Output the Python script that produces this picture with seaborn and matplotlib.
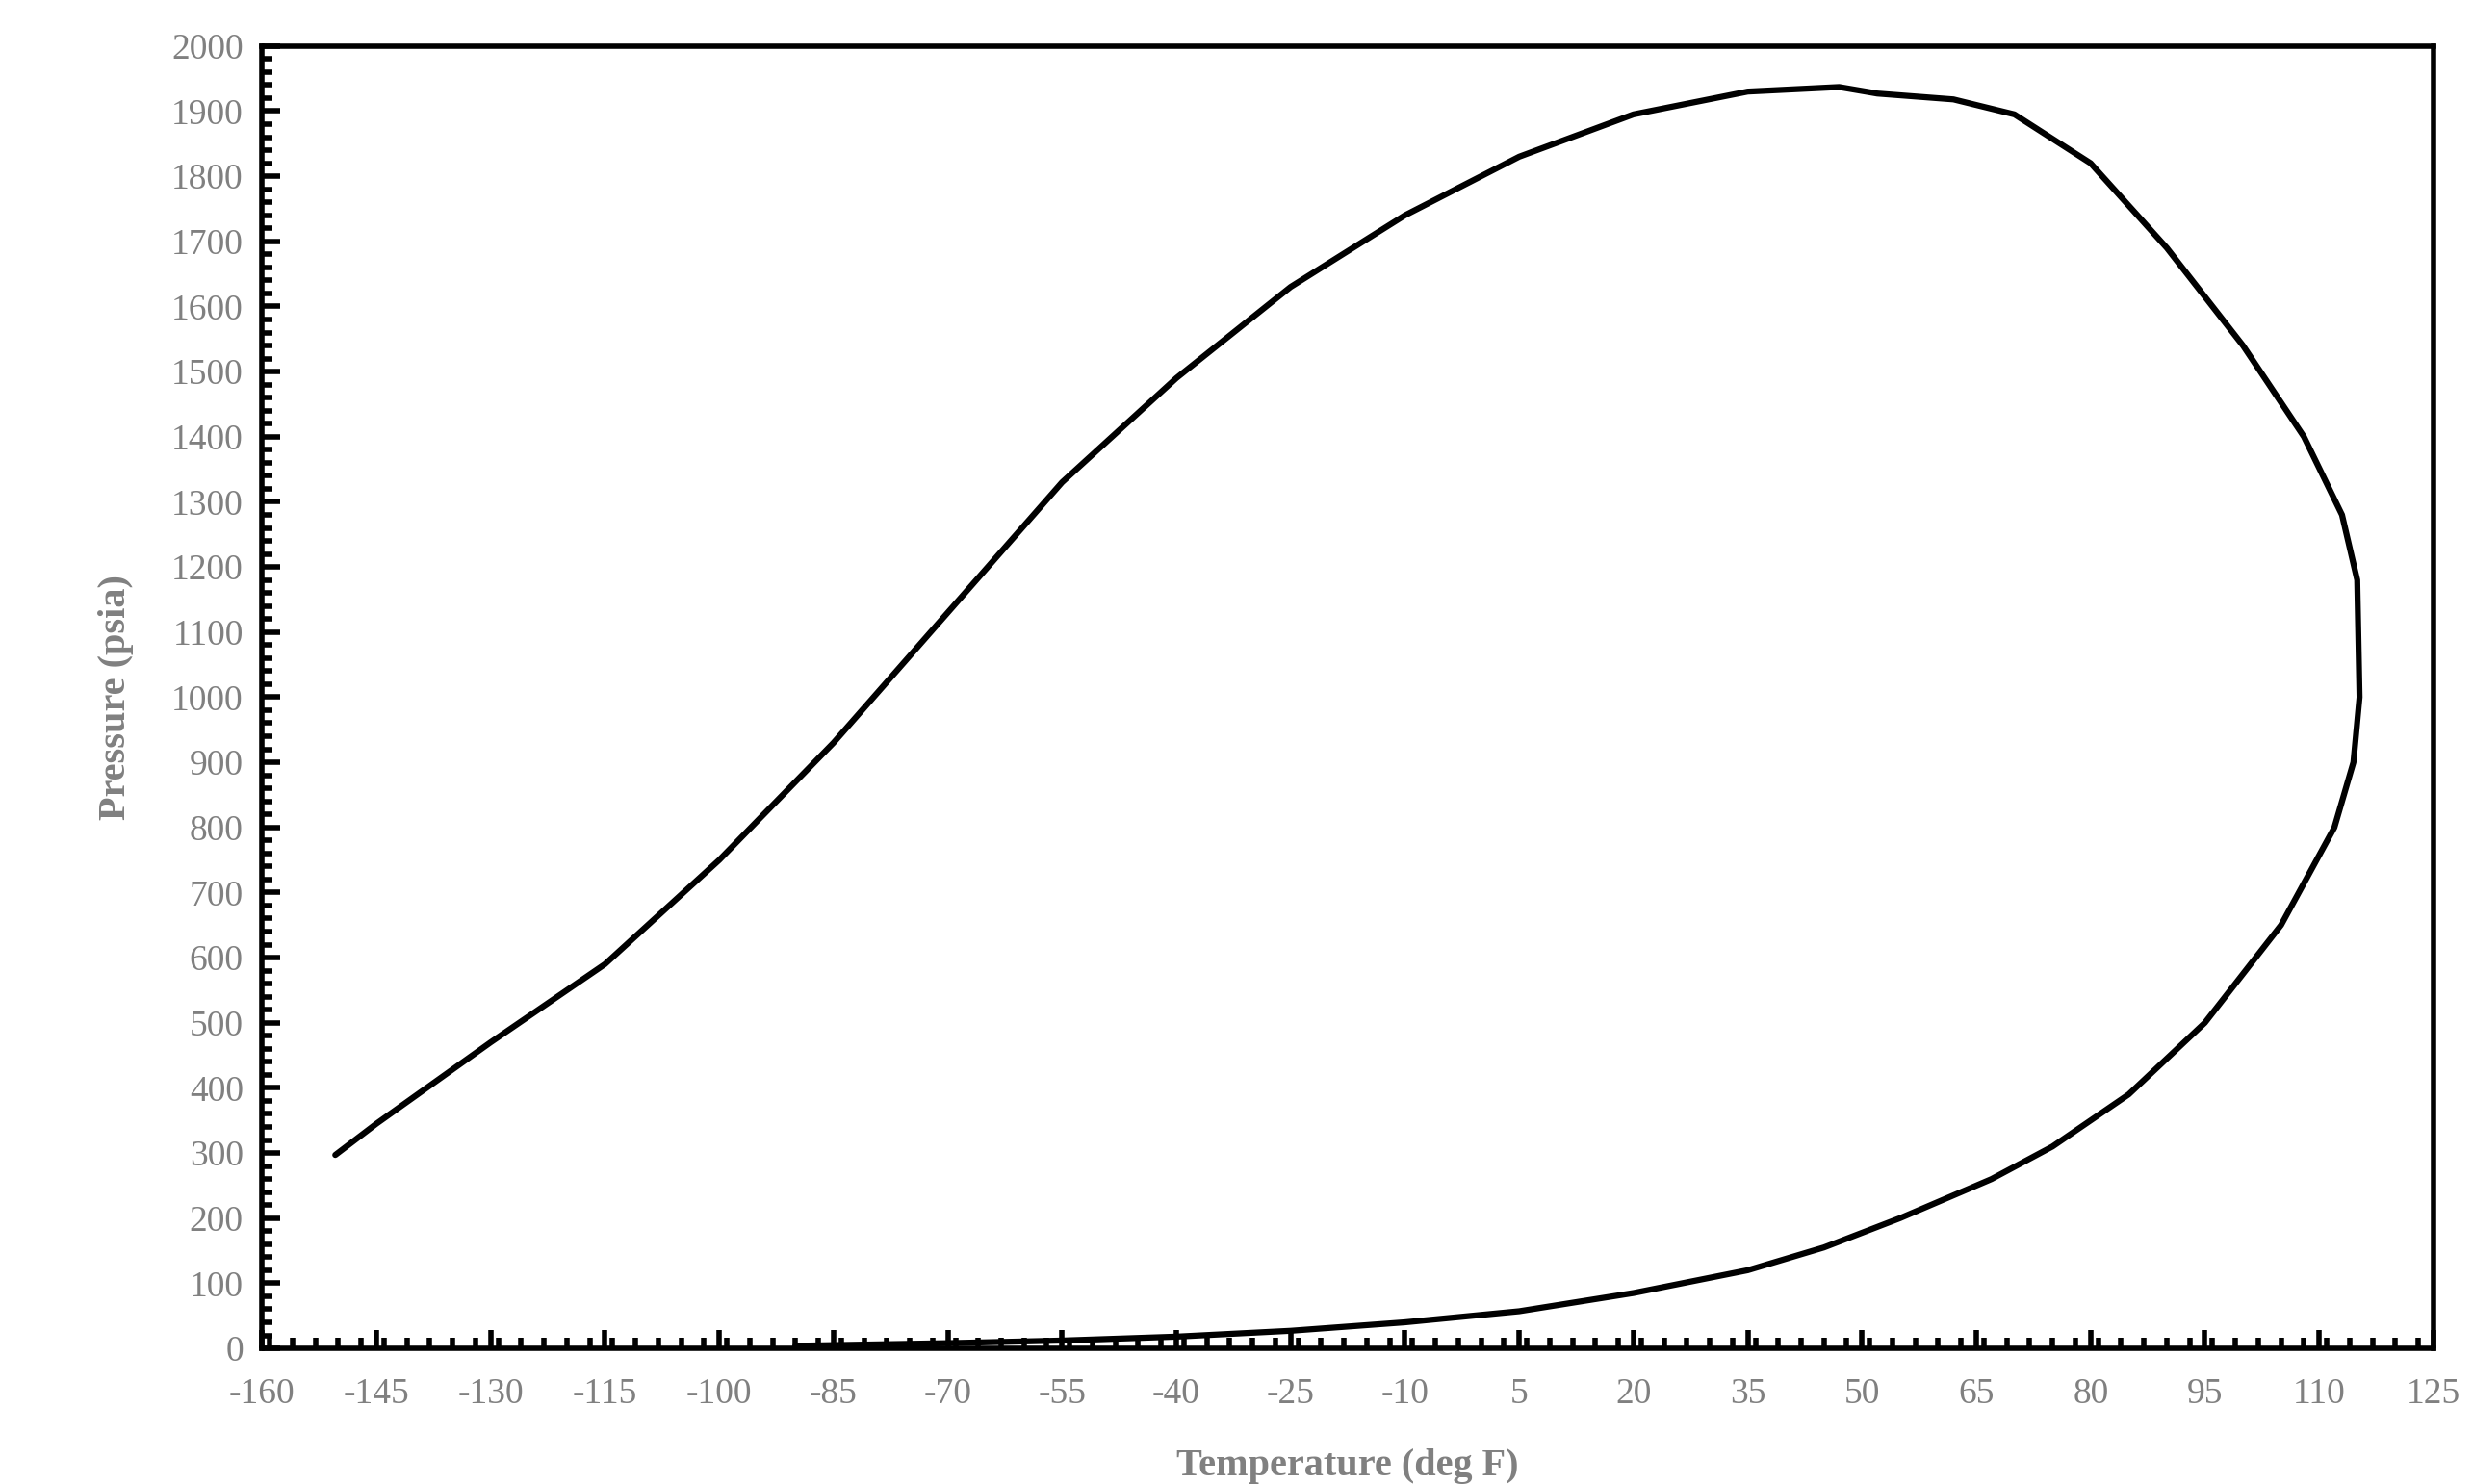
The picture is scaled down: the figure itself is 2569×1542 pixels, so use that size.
import numpy as np
import matplotlib
matplotlib.use("Agg")
import matplotlib.pyplot as plt
import seaborn as sns
from matplotlib.ticker import MultipleLocator

# phase envelope, traced from bubble end round to dew end
temp_f = [-150.4, -145, -130, -115, -100, -85, -70, -55, -40, -25, -10, 5, 20, 35, 47,
          52, 62, 70, 80, 90, 100, 108, 113, 115, 115.3, 114.5, 112, 105, 95, 85, 75,
          67, 55, 45, 35, 20, 5, -10, -25, -40, -55, -70, -85, -90]
pressure_psia = [297, 345, 470, 590, 750, 930, 1130, 1330, 1490, 1630, 1740, 1830, 1895,
                 1930, 1937, 1927, 1918, 1895, 1820, 1690, 1540, 1400, 1280, 1180, 1000,
                 900, 800, 650, 500, 390, 310, 260, 200, 155, 120, 85, 57, 40, 27, 18,
                 12, 8, 5, 4]
x_ticks = list(range(-160, 126, 15))
y_ticks = list(range(0, 2001, 100))

sns.set_style("white")
plt.rcParams['font.family'] = ['Liberation Serif', 'DejaVu Serif']
plt.rcParams['axes.unicode_minus'] = False

fig, ax = plt.subplots(figsize=(25.69, 15.42), dpi=100)
fig.subplots_adjust(left=0.106, right=0.984, top=0.969, bottom=0.0914)

sns.lineplot(x=temp_f, y=pressure_psia, sort=False, estimator=None, color='black',
             linewidth=4.5, ax=ax)

ax.set_xlim(-160, 125)
ax.set_ylim(0, 2000)
ax.set_xticks(x_ticks)
ax.set_yticks(y_ticks)
ax.xaxis.set_minor_locator(MultipleLocator(3))
ax.yaxis.set_minor_locator(MultipleLocator(20))
ax.tick_params(which='both', bottom=True, left=True, top=False, right=False)
ax.tick_params(which='major', direction='in', length=14, width=4, labelsize=27,
               labelcolor='#808080', pad=14, color='black')
ax.tick_params(which='minor', direction='in', length=8, width=4, color='black')
ax.tick_params(axis='x', pad=22)
for s in ax.spines.values():
    s.set_linewidth(4)
    s.set_color('black')

ax.set_xlabel('Temperature (deg F)', fontsize=29, fontweight='bold', color='#808080', labelpad=28)
ax.set_ylabel('Pressure (psia)', fontsize=29, fontweight='bold', color='#808080', labelpad=28)

fig.savefig('out.png', dpi=100)
